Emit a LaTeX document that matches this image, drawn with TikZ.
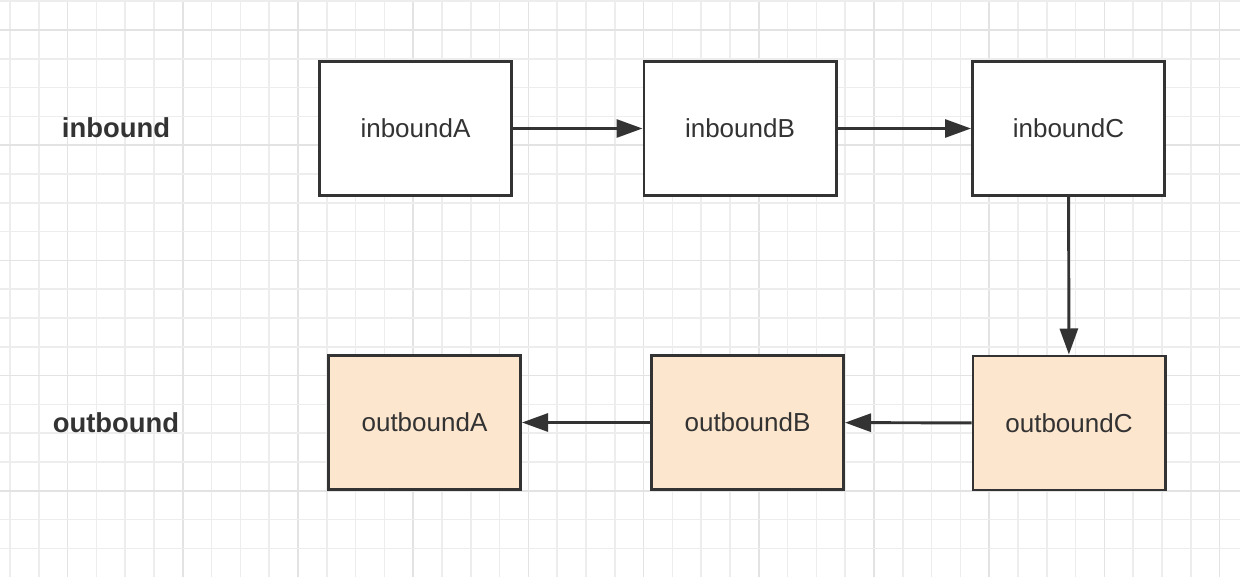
\documentclass[tikz,border=0pt]{standalone}
\usepackage{fontspec}
\setmainfont{Liberation Sans}
\usetikzlibrary{arrows.meta}
\definecolor{gridminor}{HTML}{EDEDED}
\definecolor{gridmajor}{HTML}{E3E3E3}
\definecolor{ink}{HTML}{333333}
\definecolor{peach}{HTML}{FDE6CE}
\tikzset{
  handler/.style={draw=ink,line width=2.1pt,minimum width=4.8cm,minimum height=3.35cm,
    font=\fontsize{18.5}{22}\selectfont,text=ink},
  inhandler/.style={handler,fill=white},
  outhandler/.style={handler,fill=peach},
  sidelabel/.style={font=\fontsize{19.5}{23}\selectfont\bfseries,text=ink},
  flow/.style={draw=ink,line width=2.1pt,-{Triangle[length=0.65cm,width=0.45cm]}}
}
\begin{document}
\begin{tikzpicture}[x=0.025cm,y=-0.025cm]
    \useasboundingbox[fill=white] (0,0) rectangle (1240,577);
    % background grid
    \foreach \k in {0,...,42}
      \draw[gridminor,line width=1.1pt] ({10+28.8*\k},0) -- ({10+28.8*\k},577);
    \foreach \k in {2,6,...,42}
      \draw[gridmajor,line width=1.1pt] ({10+28.8*\k},0) -- ({10+28.8*\k},577);
    \foreach \k in {-1,...,18}
      \draw[gridminor,line width=1.1pt] (0,{30+28.8*\k}) -- (1240,{30+28.8*\k});
    \foreach \k in {0,4,...,16}
      \draw[gridmajor,line width=1.1pt] (0,{30+28.8*\k}) -- (1240,{30+28.8*\k});
    % labels
    \node[sidelabel] (inlabel) at (116,128) {inbound};
    \node[sidelabel] (outlabel) at (116,423) {outbound};
    % handlers
    \node[inhandler] (inA) at (415.5,128.5) {inboundA};
    \node[inhandler] (inB) at (740,128.5) {inboundB};
    \node[inhandler] (inC) at (1068.5,128.5) {inboundC};
    \node[outhandler] (outA) at (424.5,422.5) {outboundA};
    \node[outhandler] (outB) at (747.5,422.5) {outboundB};
    \node[outhandler] (outC) at (1069,423) {outboundC};
    % flow
    \draw[flow] (inA) -- (inB);
    \draw[flow] (inB) -- (inC);
    \draw[flow] (inC) -- (outC);
    \draw[flow] (outC) -- (outB);
    \draw[flow] (outB) -- (outA);
\end{tikzpicture}
\end{document}
